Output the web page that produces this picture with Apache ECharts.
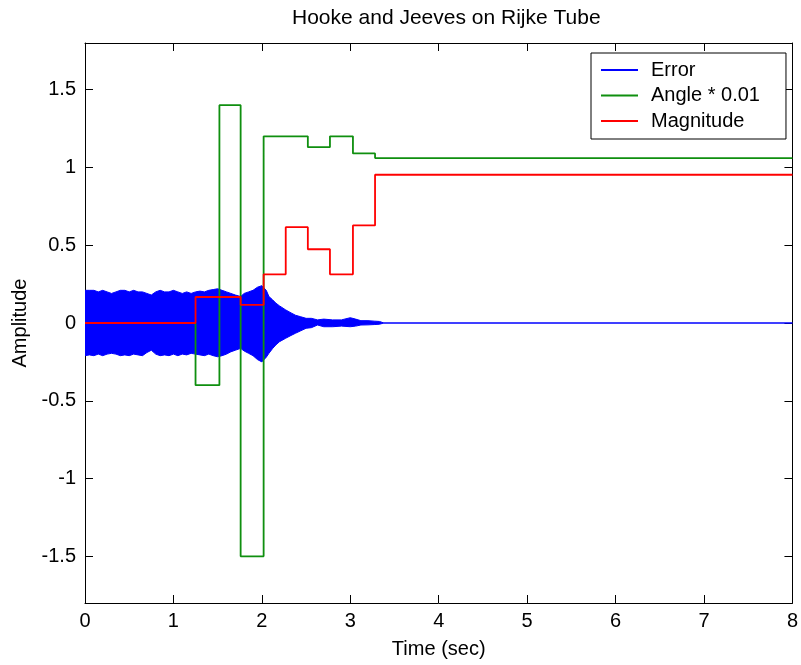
<!DOCTYPE html>
<html>
<head>
<meta charset="utf-8">
<script src="https://cdn.jsdelivr.net/npm/echarts@6/dist/echarts.min.js"></script>
<style>
  html, body { margin: 0; padding: 0; background: #fff; }
  #chart { width: 801px; height: 665px; }
</style>
</head>
<body>
<div id="chart"></div>
<script>
// Error signal: envelope of the fast oscillation (upper / lower edge) in time
const errTime  = [0, 0.05, 0.1, 0.15, 0.2, 0.25, 0.3, 0.35, 0.4, 0.45, 0.5, 0.55, 0.6, 0.65, 0.7, 0.75, 0.8, 0.85, 0.9, 0.95,
                  1.0, 1.05, 1.1, 1.15, 1.2, 1.25, 1.3, 1.35, 1.4, 1.45, 1.5, 1.55, 1.6, 1.65, 1.7, 1.76, 1.8, 1.85, 1.9, 1.95,
                  2.0, 2.02, 2.05, 2.08, 2.12, 2.16, 2.2, 2.27, 2.33, 2.38, 2.44, 2.5, 2.56, 2.63, 2.7, 2.8, 2.9, 3.0, 3.06, 3.12,
                  3.2, 3.27, 3.33, 3.38];
const errUpper = [0.21, 0.21, 0.21, 0.2, 0.21, 0.2, 0.19, 0.2, 0.21, 0.21, 0.2, 0.21, 0.2, 0.2, 0.19, 0.18, 0.2, 0.21, 0.2, 0.2,
                  0.21, 0.2, 0.19, 0.2, 0.19, 0.2, 0.205, 0.2, 0.21, 0.215, 0.22, 0.21, 0.2, 0.19, 0.18, 0.17, 0.19, 0.2, 0.21, 0.23,
                  0.24, 0.245, 0.21, 0.17, 0.15, 0.127, 0.11, 0.084, 0.065, 0.05, 0.04, 0.03, 0.03, 0.02, 0.025, 0.02, 0.02, 0.034, 0.025, 0.015,
                  0.015, 0.012, 0.01, 0];
const errLower = [-0.21, -0.205, -0.21, -0.2, -0.21, -0.2, -0.195, -0.2, -0.21, -0.205, -0.21, -0.2, -0.205, -0.21, -0.19, -0.175, -0.2, -0.21, -0.205, -0.21,
                  -0.2, -0.21, -0.2, -0.205, -0.195, -0.2, -0.205, -0.21, -0.2, -0.21, -0.217, -0.21, -0.2, -0.185, -0.175, -0.163, -0.18, -0.195, -0.21, -0.235,
                  -0.25, -0.26, -0.22, -0.195, -0.165, -0.14, -0.12, -0.098, -0.08, -0.066, -0.05, -0.034, -0.03, -0.013, -0.024, -0.024, -0.02, -0.024, -0.02, -0.013,
                  -0.012, -0.01, -0.008, 0];
const errEndTime = 8;

// Controller parameters, held constant between update instants
const angleTime = [0, 1.25, 1.52, 1.76, 2.02, 2.52, 2.77, 3.03, 3.28, 8];
const angleVal  = [0, -0.4, 1.4, -1.5, 1.2, 1.13, 1.2, 1.09, 1.06, 1.06];   // Angle * 0.01
const magTime   = [0, 1.25, 1.76, 2.02, 2.27, 2.52, 2.77, 3.03, 3.28, 8];
const magVal    = [0, 0.167, 0.116, 0.313, 0.616, 0.474, 0.313, 0.627, 0.953, 0.953];

const xTicks = [0, 1, 2, 3, 4, 5, 6, 7, 8];
const yTicks = [-1.5, -1, -0.5, 0, 0.5, 1, 1.5];

const FONT = 'Liberation Sans';
const BLUE = '#0000ff', GREEN = '#0f8f0f', RED = '#ff0000';

const pairs = (xs, ys) => xs.map((x, i) => [x, ys[i]]);
const upperPts = pairs(errTime, errUpper).concat([[errEndTime, 0]]);
const lowerPts = pairs(errTime, errLower).concat([[errEndTime, 0]]);

const axisLineStyle = { show: true, onZero: false, lineStyle: { color: '#000', width: 1 } };
const tickStyle = { show: true, inside: true, length: 8, lineStyle: { color: '#000', width: 1 } };

const chart = echarts.init(document.getElementById('chart'), null, { renderer: 'canvas' });
chart.setOption({
  animation: false,
  backgroundColor: '#fff',
  title: {
    text: 'Hooke and Jeeves on Rijke Tube',
    left: 287, top: 3,
    textStyle: { fontFamily: FONT, fontSize: 21, fontWeight: 'normal', color: '#000' }
  },
  grid: { left: 85, right: 7, top: 43, bottom: 62, containLabel: false },
  legend: {
    orient: 'vertical',
    left: 591, top: 53,
    padding: [6, 26, 7, 10],
    itemGap: 3.5,
    itemWidth: 37, itemHeight: 2,
    backgroundColor: '#fff',
    borderColor: '#000', borderWidth: 1,
    textStyle: { fontFamily: FONT, fontSize: 20, color: '#000', lineHeight: 22, padding: [0, 0, 0, 8] },
    data: [
      { name: 'Error', icon: 'rect' },
      { name: 'Angle * 0.01', icon: 'rect' },
      { name: 'Magnitude', icon: 'rect' }
    ]
  },
  xAxis: [
    {
      type: 'value', min: 0, max: 8, interval: 1, position: 'bottom',
      name: 'Time (sec)', nameLocation: 'middle', nameGap: 36,
      nameTextStyle: { fontFamily: FONT, fontSize: 20, color: '#000' },
      axisLine: axisLineStyle, axisTick: tickStyle,
      axisLabel: { fontFamily: FONT, fontSize: 20, color: '#000', margin: 8,
                   customValues: xTicks },
      splitLine: { show: false }
    },
    {
      type: 'value', min: 0, max: 8, interval: 1, position: 'top',
      axisLine: axisLineStyle, axisTick: tickStyle,
      axisLabel: { show: false }, splitLine: { show: false }
    }
  ],
  yAxis: [
    {
      type: 'value', min: -1.8, max: 1.8, position: 'left',
      name: 'Amplitude', nameLocation: 'middle', nameGap: 50, nameRotate: 90,
      nameTextStyle: { fontFamily: FONT, fontSize: 20, color: '#000' },
      axisLine: axisLineStyle,
      axisTick: Object.assign({}, tickStyle, { customValues: yTicks }),
      axisLabel: { fontFamily: FONT, fontSize: 20, color: '#000', margin: 9,
                   customValues: yTicks },
      splitLine: { show: false }
    },
    {
      type: 'value', min: -1.8, max: 1.8, position: 'right',
      axisLine: axisLineStyle,
      axisTick: Object.assign({}, tickStyle, { customValues: yTicks }),
      axisLabel: { show: false }, splitLine: { show: false }
    }
  ],
  series: [
    {
      name: 'Error', type: 'line', color: BLUE, data: upperPts,
      showSymbol: false, symbol: 'none',
      lineStyle: { color: BLUE, width: 1 },
      areaStyle: { color: BLUE, opacity: 1 }
    },
    {
      name: 'Error', type: 'line', color: BLUE, data: lowerPts,
      showSymbol: false, symbol: 'none',
      lineStyle: { color: BLUE, width: 1 },
      areaStyle: { color: BLUE, opacity: 1 }
    },
    {
      name: 'Angle * 0.01', type: 'line', color: GREEN, step: 'end',
      data: pairs(angleTime, angleVal),
      showSymbol: false, symbol: 'none',
      lineStyle: { color: GREEN, width: 1.8 }
    },
    {
      name: 'Magnitude', type: 'line', color: RED, step: 'end',
      data: pairs(magTime, magVal),
      showSymbol: false, symbol: 'none',
      lineStyle: { color: RED, width: 1.8 }
    }
  ]
});
</script>
</body>
</html>
